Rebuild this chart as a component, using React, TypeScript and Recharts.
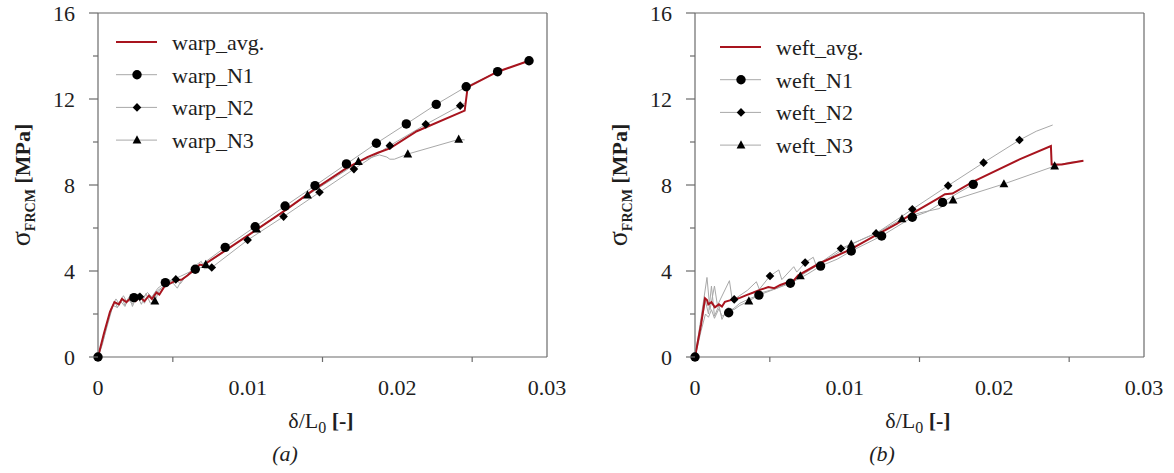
import React from 'react';
import { ComposedChart, Line, Scatter, XAxis, YAxis, ReferenceLine } from 'recharts';

type P = [number, number];

// ---- axis ticks ----
const xMajorTicks = [0, 0.01, 0.02, 0.03];
const xMinorTicks = [0.005, 0.015, 0.025];
const xTickLabels = ['0', '0.01', '0.02', '0.03'];
const yMajorTicks = [0, 4, 8, 12, 16];
const yMinorTicks = [2, 6, 10, 14];
const yTickLabels = ['0', '4', '8', '12', '16'];

// ---- (a) warp ----
const warpNames = ['warp_avg.', 'warp_N1', 'warp_N2', 'warp_N3'];
const warpAvg: P[] = [
  [0, 0], [0.0004, 1.1], [0.0008, 2.1], [0.0011, 2.55], [0.0014, 2.45], [0.0016, 2.7], [0.0019, 2.55],
  [0.0022, 2.75], [0.0025, 2.6], [0.0028, 2.8], [0.0031, 2.6], [0.0034, 2.85], [0.0036, 2.7], [0.0039, 3.0],
  [0.0041, 2.9], [0.0045, 3.35], [0.0049, 3.45], [0.0052, 3.55], [0.0056, 3.6], [0.006, 3.8], [0.0065, 4.1],
  [0.0068, 4.3], [0.0071, 4.25], [0.0073, 4.4], [0.0084, 4.9], [0.0105, 5.88], [0.0125, 6.82], [0.0145, 7.82],
  [0.0166, 8.78], [0.018, 9.3], [0.0187, 9.5], [0.0195, 9.7], [0.0213, 10.5], [0.0245, 11.46],
  [0.0247, 12.55], [0.0267, 13.27], [0.0288, 13.78],
];
const warpN1: P[] = [
  [0, 0], [0.0005, 1.3], [0.0009, 2.3], [0.0012, 2.7], [0.0014, 2.5], [0.0017, 2.85], [0.0019, 2.6],
  [0.0022, 2.9], [0.0024, 2.76], [0.0027, 2.95], [0.003, 2.75], [0.0033, 3.0], [0.0036, 2.8], [0.004, 3.2],
  [0.0045, 3.46], [0.0055, 3.75], [0.0065, 4.08], [0.0085, 5.1], [0.0105, 6.06], [0.0125, 7.02],
  [0.0145, 7.97], [0.0166, 8.98], [0.0186, 9.94], [0.0206, 10.84], [0.0226, 11.75], [0.0246, 12.57],
  [0.0267, 13.27], [0.0288, 13.78],
];
const warpN1Marks: P[] = [
  [0, 0], [0.0024, 2.76], [0.0045, 3.46], [0.0065, 4.08], [0.0085, 5.1], [0.0105, 6.06], [0.0125, 7.02],
  [0.0145, 7.97], [0.0166, 8.98], [0.0186, 9.94], [0.0206, 10.84], [0.0226, 11.75], [0.0246, 12.57],
  [0.0267, 13.27], [0.0288, 13.78],
];
const warpN2: P[] = [
  [0, 0], [0.0004, 0.9], [0.0008, 1.9], [0.001, 2.4], [0.0013, 2.3], [0.0015, 2.6], [0.0018, 2.35],
  [0.002, 2.7], [0.0023, 2.45], [0.0025, 2.85], [0.0028, 2.8], [0.0031, 2.5], [0.0034, 2.9], [0.0037, 2.6],
  [0.004, 3.1], [0.0044, 3.3], [0.0048, 3.5], [0.0052, 3.61], [0.0055, 3.4], [0.0058, 3.7], [0.0066, 4.3],
  [0.0069, 4.45], [0.0071, 4.1], [0.0076, 4.16], [0.01, 5.44], [0.0124, 6.53], [0.0148, 7.66],
  [0.0171, 8.74], [0.0195, 9.83], [0.0219, 10.82], [0.0242, 11.69], [0.0245, 11.8],
];
const warpN2Marks: P[] = [
  [0.0028, 2.8], [0.0052, 3.61], [0.0076, 4.16], [0.01, 5.44], [0.0124, 6.53], [0.0148, 7.66],
  [0.0171, 8.74], [0.0195, 9.83], [0.0219, 10.82], [0.0242, 11.69],
];
const warpN3: P[] = [
  [0, 0], [0.0003, 0.6], [0.0006, 1.5], [0.0009, 2.2], [0.0011, 2.6], [0.0013, 2.3], [0.0016, 2.75],
  [0.0018, 2.4], [0.0021, 2.8], [0.0023, 2.35], [0.0026, 2.85], [0.0029, 2.45], [0.0032, 2.95],
  [0.0035, 2.5], [0.0038, 2.6], [0.0041, 3.1], [0.0046, 3.3], [0.005, 3.45], [0.0053, 3.2], [0.0056, 3.6],
  [0.006, 3.8], [0.0072, 4.3], [0.0106, 5.95], [0.014, 7.53], [0.0165, 8.65], [0.0174, 9.09],
  [0.0188, 9.4], [0.0193, 9.3], [0.0195, 9.2], [0.0198, 9.2], [0.0207, 9.44], [0.0241, 10.12],
  [0.0245, 10.1],
];
const warpN3Marks: P[] = [
  [0.0038, 2.6], [0.0072, 4.3], [0.0106, 5.95], [0.014, 7.53], [0.0174, 9.09], [0.0207, 9.44],
  [0.0241, 10.12],
];

// ---- (b) weft ----
const weftNames = ['weft_avg.', 'weft_N1', 'weft_N2', 'weft_N3'];
const weftAvg: P[] = [
  [0, 0], [0.0004, 1.5], [0.00067, 2.73], [0.0008, 2.65], [0.00089, 2.45], [0.0011, 2.55], [0.00133, 2.31],
  [0.0016, 2.45], [0.0018, 2.35], [0.002, 2.57], [0.00256, 2.68], [0.003, 2.75], [0.00344, 2.88],
  [0.0039, 3.0], [0.00433, 3.12], [0.0049, 3.25], [0.0053, 3.2], [0.0057, 3.35], [0.0061, 3.45],
  [0.0064, 3.4], [0.0069, 3.8], [0.00833, 4.36], [0.01033, 4.98], [0.0121, 5.67], [0.0135, 6.2],
  [0.01452, 6.68], [0.01625, 7.38], [0.0167, 7.57], [0.0172, 7.6], [0.01859, 8.16], [0.02168, 9.19],
  [0.02378, 9.81], [0.02383, 8.95], [0.0245, 8.95], [0.02595, 9.13],
];
const weftN1: P[] = [
  [0, 0], [0.0004, 1.2], [0.0007, 2.0], [0.0009, 1.85], [0.0011, 2.2], [0.0013, 1.8], [0.0016, 2.25],
  [0.0018, 1.9], [0.00225, 2.06], [0.003, 2.5], [0.0036, 2.7], [0.00427, 2.88], [0.0053, 3.15],
  [0.00637, 3.43], [0.0075, 3.85], [0.00839, 4.23], [0.0095, 4.55], [0.01044, 4.93], [0.01247, 5.63],
  [0.01452, 6.5], [0.0155, 6.75], [0.01654, 7.19], [0.0175, 7.6], [0.01859, 8.03], [0.0188, 8.1],
];
const weftN1Marks: P[] = [
  [0, 0], [0.00225, 2.06], [0.00427, 2.88], [0.00637, 3.43], [0.00839, 4.23], [0.01044, 4.93],
  [0.01247, 5.63], [0.01452, 6.5], [0.01654, 7.19], [0.01859, 8.03],
];
const weftN2: P[] = [
  [0, 0], [0.0004, 1.8], [0.0008, 3.7], [0.001, 2.2], [0.0013, 3.3], [0.0015, 2.4], [0.0023, 3.55],
  [0.0025, 2.6], [0.00262, 2.68], [0.0035, 3.1], [0.0041, 3.5], [0.0043, 3.15], [0.00501, 3.77],
  [0.0056, 4.05], [0.0058, 3.6], [0.0066, 4.2], [0.0068, 3.95], [0.00736, 4.39], [0.0079, 4.64],
  [0.0081, 4.25], [0.00975, 5.05], [0.0121, 5.75], [0.01452, 6.87], [0.01691, 7.97], [0.01928, 9.04],
  [0.02168, 10.09], [0.0228, 10.5], [0.0239, 10.79],
];
const weftN2Marks: P[] = [
  [0.00262, 2.68], [0.00501, 3.77], [0.00736, 4.39], [0.00975, 5.05], [0.0121, 5.75], [0.01452, 6.87],
  [0.01691, 7.97], [0.01928, 9.04], [0.02168, 10.09],
];
const weftN3: P[] = [
  [0, 0], [0.0004, 1.5], [0.0007, 2.6], [0.0009, 2.0], [0.0011, 3.3], [0.0013, 1.9], [0.0016, 2.4],
  [0.0018, 1.75], [0.0022, 2.3], [0.0026, 2.2], [0.003, 2.4], [0.0036, 2.6], [0.0045, 3.0], [0.0055, 3.2],
  [0.00704, 3.77], [0.0085, 4.4], [0.01044, 5.24], [0.0125, 5.9], [0.01383, 6.42], [0.015, 6.7],
  [0.0163, 6.9], [0.01724, 7.3], [0.02064, 8.05], [0.02403, 8.88], [0.025, 9.05], [0.02595, 9.13],
];
const weftN3Marks: P[] = [
  [0.0036, 2.6], [0.00704, 3.77], [0.01044, 5.24], [0.01383, 6.42], [0.01724, 7.3], [0.02064, 8.05],
  [0.02403, 8.88],
];

const toObj = (a: P[]) => a.map(([x, y]) => ({ x, y }));

const FONT = "'Liberation Serif', 'Times New Roman', serif";
const RED = '#a8141e';
const GRAY = '#a8a8a8';
const AXIS = '#6b6b6b';
const TXT = '#1e1e1e';

const isIn = (v: number, arr: number[]) => arr.findIndex((t) => Math.abs(t - v) < 1e-9);

const XTick = (p: any) => {
  const v = p.payload.value;
  const mi = isIn(v, xMajorTicks);
  if (mi >= 0) {
    return (
      <text x={p.x} y={p.y + 38} textAnchor="middle" fontFamily={FONT} fontSize={22} fill={TXT}>
        {xTickLabels[mi]}
      </text>
    );
  }
  return <line x1={p.x} y1={p.y} x2={p.x} y2={p.y + 5} stroke={AXIS} strokeWidth={1.2} />;
};

const YTick = (p: any) => {
  const v = p.payload.value;
  const mi = isIn(v, yMajorTicks);
  if (mi >= 0) {
    return (
      <g>
        <line x1={p.x - 9} y1={p.y} x2={p.x} y2={p.y} stroke={AXIS} strokeWidth={1.2} />
        <text x={p.x - 23} y={p.y + 8} textAnchor="end" fontFamily={FONT} fontSize={22} fill={TXT}>
          {yTickLabels[mi]}
        </text>
      </g>
    );
  }
  return <line x1={p.x - 5} y1={p.y} x2={p.x} y2={p.y} stroke={AXIS} strokeWidth={1.2} />;
};

const CircleMark = (p: any) => <circle cx={p.cx} cy={p.cy} r={4.7} fill="#000" />;
const DiamondMark = (p: any) => (
  <polygon
    points={`${p.cx},${p.cy - 4.3} ${p.cx + 4.3},${p.cy} ${p.cx},${p.cy + 4.3} ${p.cx - 4.3},${p.cy}`}
    fill="#000"
  />
);
const TriangleMark = (p: any) => (
  <polygon points={`${p.cx},${p.cy - 4.8} ${p.cx + 4.4},${p.cy + 3.4} ${p.cx - 4.4},${p.cy + 3.4}`} fill="#000" />
);

type PanelProps = {
  left: number;
  names: string[];
  avg: P[];
  n1: P[];
  n2: P[];
  n3: P[];
  m1: P[];
  m2: P[];
  m3: P[];
  caption: string;
  legendX: number;
  legendY: number;
};

const W = 577;
const H = 473;

const Panel = ({ left, names, avg, n1, n2, n3, m1, m2, m3, caption, legendX, legendY }: PanelProps) => {
  const rowGap = 32.7;
  const lx1 = legendX;
  const lx2 = legendX + 41;
  const mx = legendX + 21;
  const tx = legendX + 56;
  return (
    <div style={{ position: 'absolute', left, top: 0, width: W, height: H }}>
      <ComposedChart width={W} height={H} margin={{ top: 13, right: 30, left: 38, bottom: 86 }}>
        <XAxis
          type="number"
          dataKey="x"
          domain={[0, 0.03]}
          ticks={[...xMajorTicks, ...xMinorTicks].sort((a, b) => a - b)}
          interval={0}
          tickLine={false}
          tickSize={0}
          tickMargin={0}
          tick={<XTick />}
          axisLine={{ stroke: AXIS, strokeWidth: 1.2 }}
          height={30}
        />
        <YAxis
          type="number"
          dataKey="y"
          domain={[0, 16]}
          ticks={[...yMajorTicks, ...yMinorTicks].sort((a, b) => a - b)}
          interval={0}
          tickLine={false}
          tickSize={0}
          tickMargin={0}
          tick={<YTick />}
          axisLine={{ stroke: AXIS, strokeWidth: 1.2 }}
          width={60}
        />
        <ReferenceLine y={16} stroke={AXIS} strokeWidth={1.2} />
        <ReferenceLine x={0.03} stroke={AXIS} strokeWidth={1.2} />
        <Line data={toObj(n3)} dataKey="y" type="linear" stroke={GRAY} strokeWidth={1} dot={false} activeDot={false} isAnimationActive={false} />
        <Line data={toObj(n2)} dataKey="y" type="linear" stroke={GRAY} strokeWidth={1} dot={false} activeDot={false} isAnimationActive={false} />
        <Line data={toObj(n1)} dataKey="y" type="linear" stroke={GRAY} strokeWidth={1} dot={false} activeDot={false} isAnimationActive={false} />
        <Line data={toObj(avg)} dataKey="y" type="linear" stroke={RED} strokeWidth={2} dot={false} activeDot={false} isAnimationActive={false} />
        <Scatter data={toObj(m3)} dataKey="y" shape={<TriangleMark />} isAnimationActive={false} />
        <Scatter data={toObj(m2)} dataKey="y" shape={<DiamondMark />} isAnimationActive={false} />
        <Scatter data={toObj(m1)} dataKey="y" shape={<CircleMark />} isAnimationActive={false} />
      </ComposedChart>
      <svg
        width={W}
        height={H}
        style={{ position: 'absolute', left: 0, top: 0, pointerEvents: 'none' }}
        fontFamily={FONT}
      >
        {/* legend */}
        {names.map((n, i) => {
          const y = legendY + i * rowGap;
          return (
            <g key={n}>
              <line x1={lx1} y1={y} x2={lx2} y2={y} stroke={i === 0 ? RED : GRAY} strokeWidth={i === 0 ? 2 : 1} />
              {i === 1 && <CircleMark cx={mx} cy={y} />}
              {i === 2 && <DiamondMark cx={mx} cy={y} />}
              {i === 3 && <TriangleMark cx={mx} cy={y} />}
              <text x={tx} y={y + 8} fontSize={22} fill={TXT}>
                {n}
              </text>
            </g>
          );
        })}
        {/* y axis title */}
        <text transform="translate(30,185) rotate(-90)" textAnchor="middle" fill={TXT}>
          <tspan fontSize={28}>σ</tspan>
          <tspan fontSize={14} fontWeight="bold" dy={5}>
            FRCM
          </tspan>
          <tspan fontSize={22} fontWeight="bold" dy={-5}>
            {' [MPa]'}
          </tspan>
        </text>
        {/* x axis title */}
        <text x={321} y={428} textAnchor="middle" fill={TXT}>
          <tspan fontSize={22}>δ/L</tspan>
          <tspan fontSize={16} dy={5}>
            0
          </tspan>
          <tspan fontSize={22} fontWeight="bold" dy={-5}>
            {' [-]'}
          </tspan>
        </text>
        <text x={285} y={461} textAnchor="middle" fontSize={22} fontStyle="italic" fill={TXT}>
          {caption}
        </text>
      </svg>
    </div>
  );
};

export default function App() {
  return (
    <div
      style={{
        position: 'absolute',
        left: 0,
        top: 0,
        width: 1174,
        height: 473,
        background: '#fff',
        overflow: 'hidden',
      }}
    >
      <Panel
        left={0}
        names={warpNames}
        avg={warpAvg}
        n1={warpN1}
        n2={warpN2}
        n3={warpN3}
        m1={warpN1Marks}
        m2={warpN2Marks}
        m3={warpN3Marks}
        caption="(a)"
        legendX={116}
        legendY={42}
      />
      <Panel
        left={597}
        names={weftNames}
        avg={weftAvg}
        n1={weftN1}
        n2={weftN2}
        n3={weftN3}
        m1={weftN1Marks}
        m2={weftN2Marks}
        m3={weftN3Marks}
        caption="(b)"
        legendX={123}
        legendY={47}
      />
    </div>
  );
}
